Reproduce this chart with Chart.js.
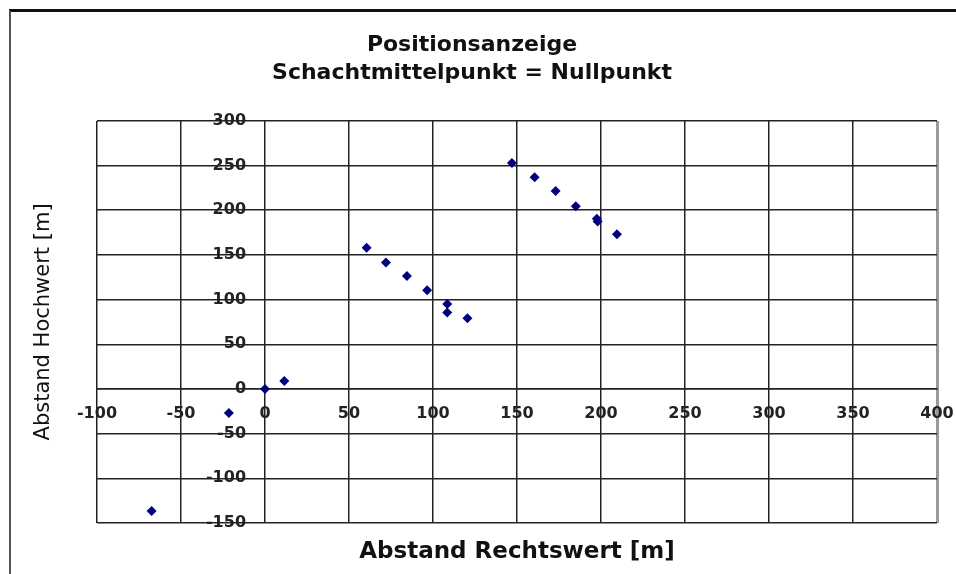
<!DOCTYPE html>
<html lang="de">
<head>
    <meta charset="UTF-8">
    <title>Positionsanzeige</title>
    <script src="https://cdn.jsdelivr.net/npm/chart.js"></script>
    <style>
        html, body { margin: 0; padding: 0; background: #fff; }
        #wrap { position: relative; width: 956px; height: 574px; }
        #frame { position: absolute; left: 9px; top: 9px; right: 0; bottom: 0;
                 border-top: 3px solid #111; border-left: 2px solid #555; pointer-events: none; }
    </style>
</head>
<body>
    <div id="wrap">
        <canvas id="myChart" width="956" height="574"></canvas>
        <div id="frame"></div>
    </div>
    <script>
    // Werte
    const titleLines = ['Positionsanzeige', 'Schachtmittelpunkt = Nullpunkt'];
    const xTitle = 'Abstand Rechtswert [m]';
    const yTitle = 'Abstand Hochwert [m]';

    const rechtswert = [-67.5, -21.5, 0, 11.5, 60.5, 72, 84.5, 96.5, 108.5, 108.5, 120.5, 147, 160.5, 173, 185, 197.5, 198, 209.5];
    const hochwert   = [-136.5, -27, 0, 9, 158, 141.5, 126.5, 110.5, 95, 85.5, 79, 253, 237, 221.5, 204.5, 190.5, 187.5, 173];

    const xMin = -100, xMax = 400, xStep = 50;
    const yMin = -150, yMax = 300, yStep = 50;

    const points = rechtswert.map((x, i) => ({ x: x, y: hochwert[i] }));

    const gridColor = ctx => (ctx.tick && ctx.tick.value === xMax) ? '#9a9a9a' : '#222';
    const gridWidth = ctx => (ctx.tick && ctx.tick.value === xMax) ? 3 : 1.5;

    // Achsen liegen im Diagramm, also keinen Platz reservieren
    function noSpace(s) {
        if (s.isHorizontal()) s.height = 0; else s.width = 0;
        s.paddingLeft = 0; s.paddingRight = 0; s.paddingTop = 0; s.paddingBottom = 0;
    }

    const ctx = document.getElementById('myChart').getContext('2d');
    const myChart = new Chart(ctx, {
        type: 'scatter',
        data: {
            datasets: [{
                label: 'Position',
                data: points,
                xAxisID: 'x',
                yAxisID: 'y',
                pointStyle: 'rectRot',
                pointRadius: 5,
                pointHoverRadius: 5,
                backgroundColor: '#00007f',
                borderColor: '#00007f',
                borderWidth: 0
            }]
        },
        options: {
            responsive: false,
            animation: false,
            layout: { autoPadding: false, padding: { left: 7, right: 19, top: 0, bottom: 4 } },
            plugins: {
                legend: { display: false },
                tooltip: { enabled: false },
                title: {
                    display: true,
                    text: titleLines,
                    color: '#111',
                    font: { family: 'DejaVu Sans', size: 22, weight: 'bold', lineHeight: 1.27 },
                    padding: { top: 31, bottom: 34 }
                }
            },
            scales: {
                x: {
                    type: 'linear',
                    position: { y: 0 },
                    min: xMin, max: xMax,
                    afterFit: noSpace,
                    ticks: { stepSize: xStep, padding: 15, color: '#222',
                             font: { family: 'DejaVu Sans', size: 16, weight: 'bold' } },
                    grid: { color: gridColor, lineWidth: gridWidth, drawTicks: false },
                    border: { color: '#222', width: 1.5 }
                },
                y: {
                    type: 'linear',
                    // Beschriftung etwas links der Nulllinie, wie im Original
                    position: { x: -11.3 },
                    min: yMin, max: yMax,
                    afterFit: noSpace,
                    ticks: { stepSize: yStep, color: '#222',
                             font: { family: 'DejaVu Sans', size: 16, weight: 'bold' } },
                    grid: { color: '#222', lineWidth: 1.5, drawTicks: false },
                    border: { display: false }
                },
                xt: {
                    type: 'linear',
                    axis: 'x',
                    position: 'bottom',
                    ticks: { display: false },
                    grid: { display: false, drawTicks: false },
                    border: { display: false },
                    title: {
                        display: true, text: xTitle, color: '#111',
                        font: { family: 'DejaVu Sans', size: 23, weight: 'bold', lineHeight: 1.2 },
                        padding: { top: 15.4, bottom: 4 }
                    }
                },
                yt: {
                    type: 'linear',
                    axis: 'y',
                    position: 'left',
                    ticks: { display: false },
                    grid: { display: false, drawTicks: false },
                    border: { display: false },
                    title: {
                        display: true, text: yTitle, color: '#111',
                        font: { family: 'DejaVu Sans', size: 21, weight: 'normal', lineHeight: 1.2 },
                        padding: { top: 24.4, bottom: 40.4 }
                    }
                }
            }
        }
    });
    </script>
</body>
</html>
